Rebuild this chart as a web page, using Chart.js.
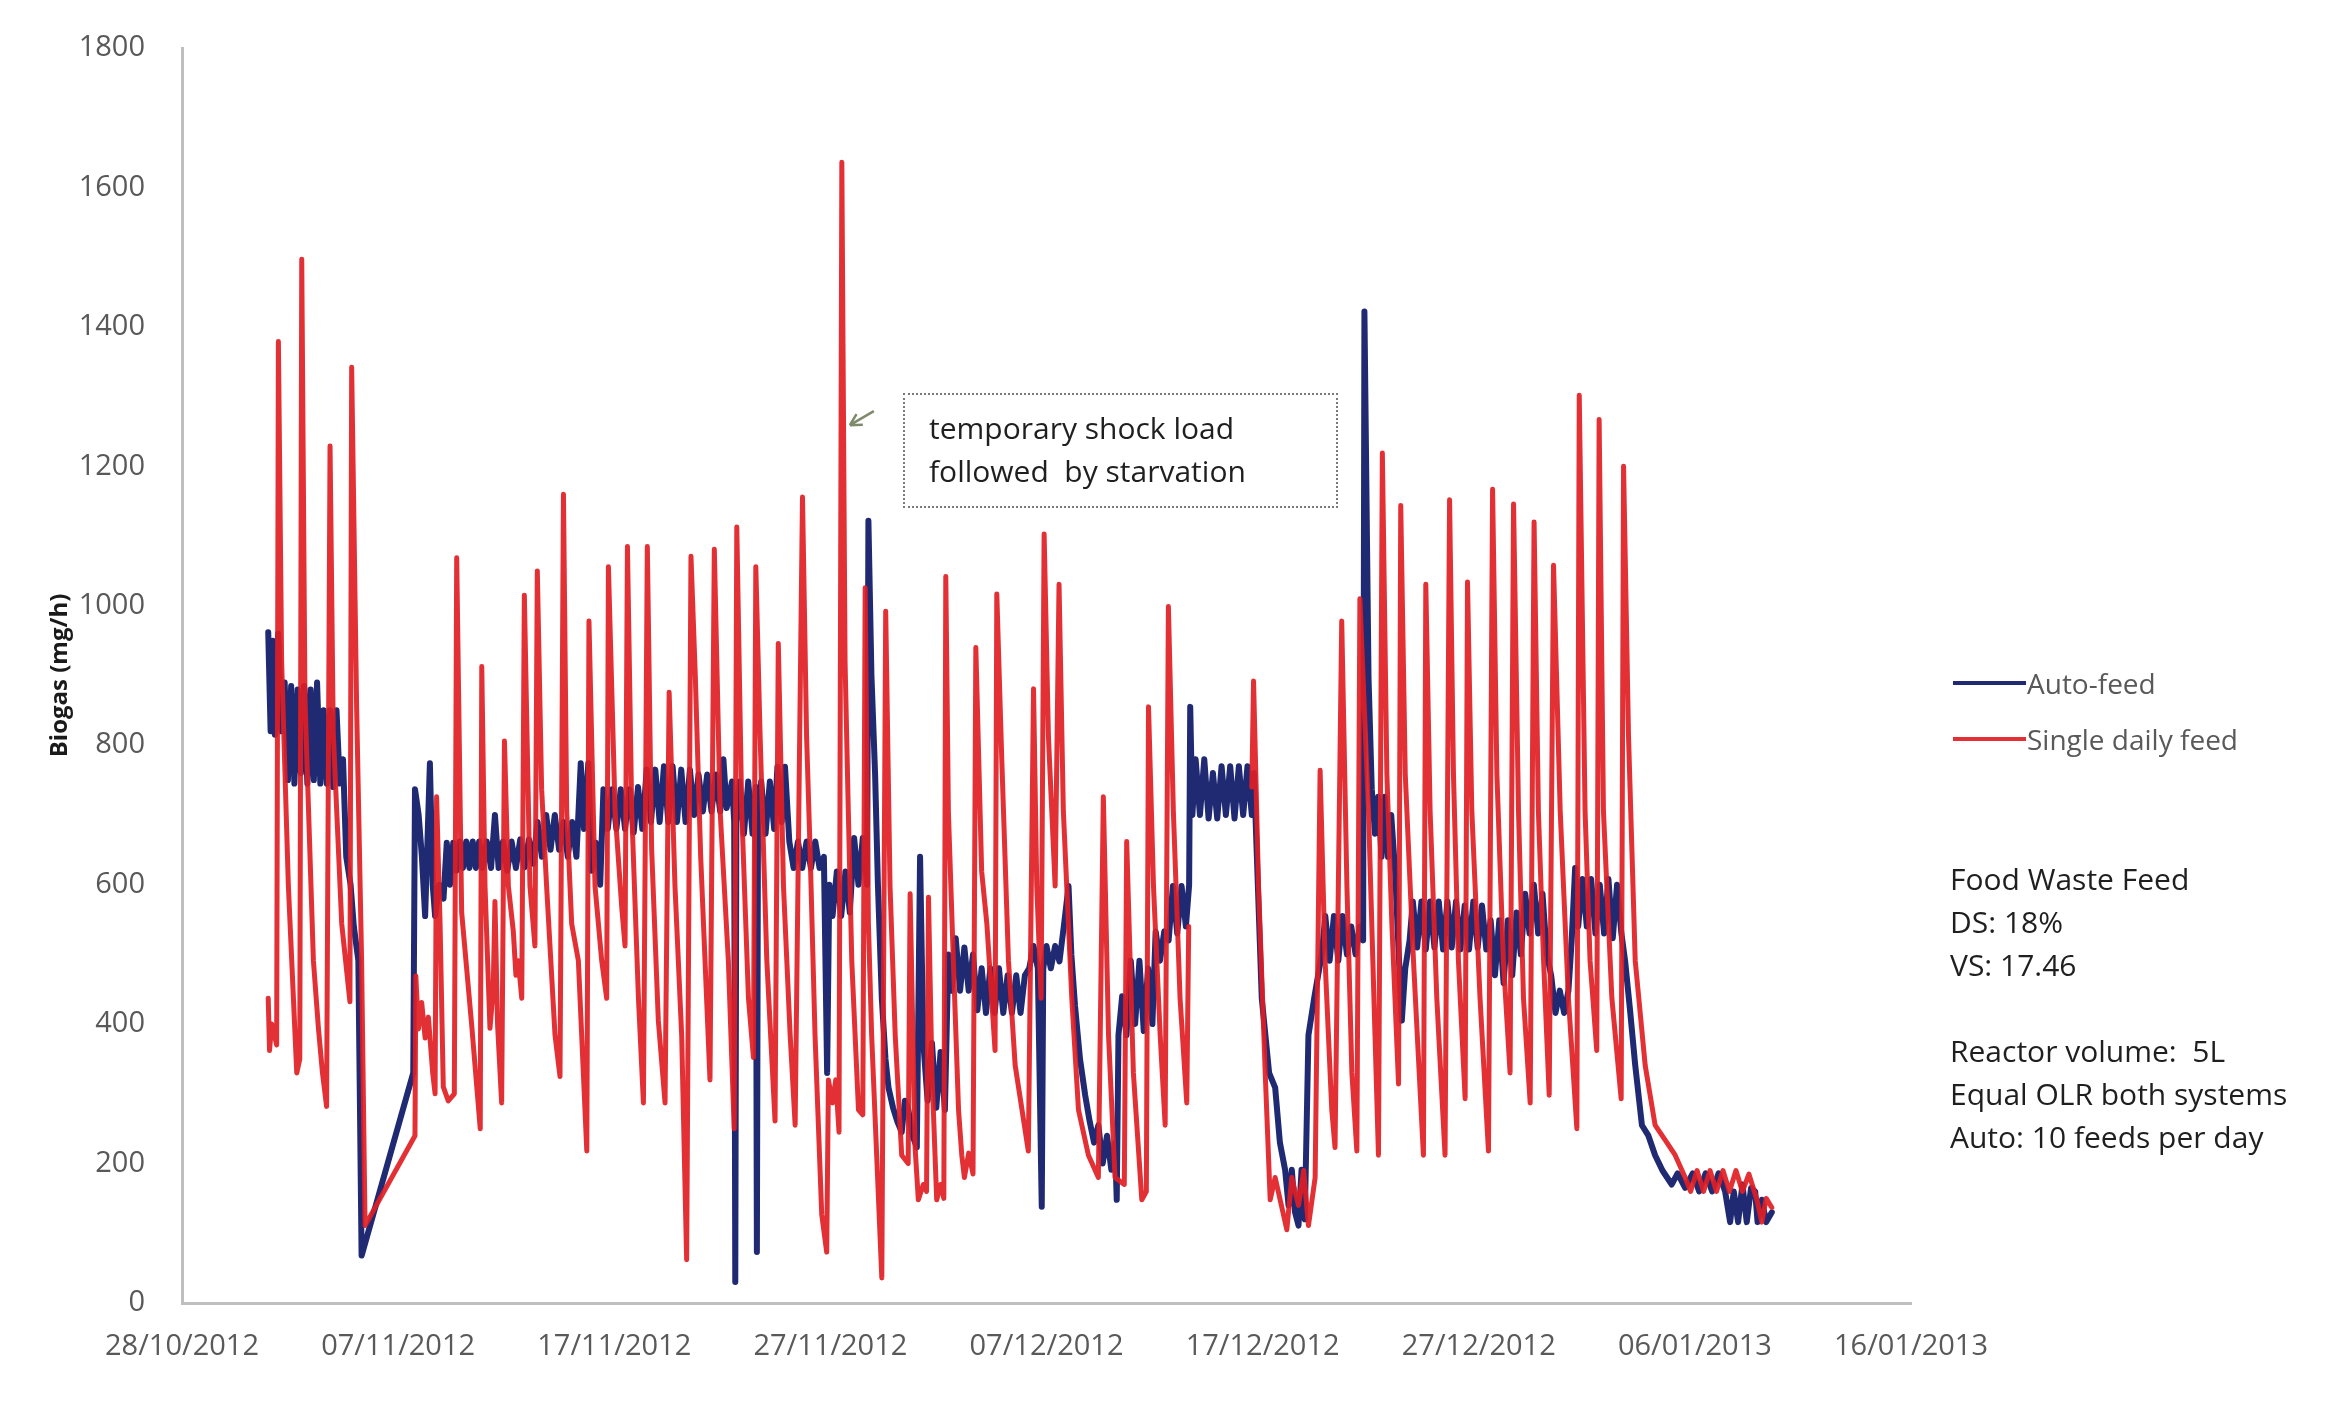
<!DOCTYPE html>
<html>
<head>
<meta charset="utf-8">
<title>Biogas - auto feed vs single daily feed</title>
<script src="https://cdn.jsdelivr.net/npm/chart.js@4.4.1/dist/chart.umd.min.js"></script>
<style>
  html, body { margin: 0; padding: 0; background: #fff; }
  #wrap { position: relative; width: 2337px; height: 1404px; font-family: "Open Sans", sans-serif; }
  #chart { position: absolute; left: 0; top: 0; }
  .legend-row { position: absolute; left: 1953px; height: 34px; display: flex; align-items: center;
                color: #595959; font-size: 28px; white-space: nowrap; }
  .legend-row .swatch { width: 73px; height: 4px; margin-right: 1px; }
  .notes { position: absolute; left: 1950px; top: 857px; font-size: 30px; line-height: 43px;
           color: #1f1f1f; white-space: pre; }
  .shock { position: absolute; left: 903px; top: 393px; width: 435px; height: 115px; box-sizing: border-box;
           border: 2px dotted #7a7a7a; padding: 11px 0 0 24px; font-size: 30px; line-height: 43px;
           color: #1f1f1f; white-space: pre; }
</style>
</head>
<body>
<div id="wrap">
  <canvas id="chart" width="2337" height="1404"></canvas>
  <div id="legend"></div>
  <div class="shock">temporary shock load
followed  by starvation</div>
  <div class="notes">Food Waste Feed
DS: 18%
VS: 17.46

Reactor volume:  5L
Equal OLR both systems
Auto: 10 feeds per day</div>
</div>
<script>
/* ---------- axis labels ---------- */
const tickLabels = ["28/10/2012", "07/11/2012", "17/11/2012", "27/11/2012", "07/12/2012",
                    "17/12/2012", "27/12/2012", "06/01/2013", "16/01/2013"];

/* ---------- series: [days since 28/10/2012, biogas mg/h] ---------- */
const autoFeed = [
  [3.99,962],[4.1,820],[4.2,950],[4.3,815],[4.45,960],[4.6,820],[4.75,890],[4.9,750],[5.05,885],[5.2,745],
  [5.35,880],[5.5,760],[5.65,885],[5.8,745],[5.95,880],[6.1,750],[6.25,890],[6.4,745],[6.55,850],[6.7,745],
  [6.85,850],[7.0,740],[7.15,850],[7.3,745],[7.45,780],[7.6,640],[7.8,600],[7.95,540],[8.16,491],[8.31,68],
  [10.7,330],[10.78,737],[10.95,700],[11.1,640],[11.25,555],[11.47,774],[11.6,600],[11.71,555],[11.9,600],[12.1,580],
  [12.25,660],[12.4,600],[12.55,660],[12.7,620],[12.85,662],[13.0,624],[13.15,662],[13.3,624],[13.45,662],[13.6,624],
  [13.75,662],[13.9,624],[14.1,662],[14.3,624],[14.48,700],[14.65,624],[14.85,662],[15.05,620],[15.25,662],[15.45,624],
  [15.65,665],[15.85,625],[16.05,665],[16.25,630],[16.45,690],[16.65,640],[16.85,700],[17.05,650],[17.25,700],[17.45,650],
  [17.65,690],[17.85,640],[18.05,690],[18.25,640],[18.45,774],[18.6,680],[18.8,774],[18.95,620],[19.15,660],[19.35,600],
  [19.5,737],[19.7,680],[19.9,737],[20.1,680],[20.3,737],[20.5,680],[20.7,737],[20.9,675],[21.1,740],[21.3,680],
  [21.5,765],[21.7,690],[21.9,765],[22.1,690],[22.3,770],[22.5,690],[22.7,770],[22.9,690],[23.1,765],[23.3,690],
  [23.5,765],[23.7,700],[23.9,758],[24.1,705],[24.3,758],[24.5,705],[24.7,758],[24.9,705],[25.05,780],[25.2,710],
  [25.45,748],[25.55,690],[25.6,30],[25.65,690],[25.8,748],[26.0,673],[26.2,748],[26.4,673],[26.55,740],[26.6,73],
  [26.65,680],[26.8,748],[27.0,673],[27.2,748],[27.4,680],[27.55,769],[27.75,690],[27.9,769],[28.1,662],[28.3,624],
  [28.5,662],[28.7,624],[28.9,662],[29.1,624],[29.3,662],[29.5,624],[29.7,640],[29.85,330],[29.95,600],[30.1,555],
  [30.3,619],[30.5,555],[30.7,619],[30.9,560],[31.1,667],[31.3,600],[31.5,667],[31.7,600],[31.76,1122],[31.9,900],
  [32.07,758],[32.2,600],[32.38,437],[32.55,350],[32.69,309],[32.9,280],[33.1,260],[33.3,245],[33.45,290],[33.61,277],
  [33.8,240],[34.0,223],[34.15,640],[34.3,373],[34.5,290],[34.7,373],[34.9,280],[35.1,360],[35.3,277],[35.46,500],
  [35.6,448],[35.8,523],[36.0,448],[36.2,510],[36.4,448],[36.6,500],[36.8,420],[37.0,480],[37.2,416],[37.4,480],
  [37.6,416],[37.8,480],[38.0,416],[38.2,470],[38.4,416],[38.6,470],[38.8,416],[39.0,470],[39.2,480],[39.4,512],
  [39.6,480],[39.78,138],[39.85,480],[40.0,512],[40.2,480],[40.4,512],[40.6,490],[40.8,540],[41.02,598],[41.15,500],
  [41.32,426],[41.55,350],[41.79,298],[42.0,260],[42.2,230],[42.4,255],[42.6,200],[42.8,240],[43.0,191],[43.17,230],
  [43.25,148],[43.33,384],[43.5,440],[43.7,384],[43.9,491],[44.1,400],[44.3,491],[44.5,390],[44.7,480],[44.9,400],
  [45.05,533],[45.25,491],[45.45,533],[45.65,520],[45.85,598],[46.05,530],[46.25,598],[46.45,540],[46.6,600],[46.65,855],
  [46.75,700],[46.9,780],[47.1,700],[47.3,780],[47.5,695],[47.7,760],[47.9,695],[48.1,770],[48.3,700],[48.5,770],
  [48.7,695],[48.9,770],[49.1,700],[49.3,770],[49.5,700],[49.6,760],[49.96,437],[50.3,330],[50.58,309],[50.8,230],
  [51.04,191],[51.2,140],[51.35,191],[51.5,130],[51.66,111],[51.8,191],[51.95,120],[52.12,384],[52.4,440],[52.74,501],
  [52.9,555],[53.1,491],[53.3,555],[53.5,491],[53.7,555],[53.9,500],[54.1,540],[54.3,500],[54.5,540],[54.65,520],
  [54.71,1422],[54.9,897],[55.05,737],[55.2,673],[55.35,726],[55.5,640],[55.65,726],[55.8,640],[55.95,700],[56.13,619],
  [56.3,500],[56.44,405],[56.6,480],[56.8,520],[56.95,576],[57.15,510],[57.35,576],[57.55,507],[57.75,576],[57.95,510],
  [58.15,576],[58.35,507],[58.55,576],[58.75,510],[58.95,576],[59.15,507],[59.35,570],[59.55,507],[59.75,576],[59.95,510],
  [60.15,570],[60.35,507],[60.55,549],[60.75,470],[60.95,549],[61.15,459],[61.35,549],[61.55,470],[61.75,560],[61.95,500],
  [62.15,587],[62.35,530],[62.55,600],[62.75,530],[62.95,587],[63.15,500],[63.35,470],[63.55,416],[63.75,448],[63.95,416],
  [64.15,448],[64.3,520],[64.46,624],[64.6,540],[64.8,608],[65.0,540],[65.2,608],[65.4,530],[65.6,600],[65.8,530],
  [66.0,608],[66.2,523],[66.4,600],[66.6,530],[66.77,491],[67.0,420],[67.24,341],[67.55,255],[67.85,240],[68.16,212],
  [68.5,190],[68.93,170],[69.2,186],[69.55,165],[69.9,186],[70.2,160],[70.5,186],[70.8,160],[71.1,186],[71.4,160],
  [71.63,116],[71.8,160],[72.0,116],[72.2,170],[72.4,116],[72.6,165],[72.79,160],[72.9,116],[73.1,148],[73.3,116],
  [73.56,130]
];

const singleFeed = [
  [3.99,437],[4.05,362],[4.15,400],[4.38,370],[4.46,1379],[4.61,920],[4.92,600],[5.31,330],[5.45,350],[5.54,1497],
  [5.69,865],[6.08,491],[6.31,395],[6.5,330],[6.69,282],[6.85,1229],[7.0,817],[7.39,544],[7.77,432],[7.85,1342],
  [8.08,855],[8.31,491],[8.47,111],
  [10.78,240],[10.82,469],[10.94,393],[11.09,431],[11.25,380],[11.4,410],[11.6,330],[11.71,300],[11.78,726],[11.94,545],
  [12.09,310],[12.32,290],[12.6,300],[12.71,1069],[12.94,560],[13.4,400],[13.8,250],
  [13.87,913],[14.02,598],[14.25,394],[14.4,450],[14.48,576],[14.6,400],[14.79,287],
  [14.92,806],[15.1,598],[15.33,533],[15.45,470],[15.56,491],[15.72,437],
  [15.84,1015],[16.1,598],[16.33,512],
  [16.44,1050],[16.64,737],[16.87,598],[17.26,384],[17.49,325],
  [17.65,1160],[17.8,705],[18.03,544],[18.34,491],[18.73,218],
  [18.83,978],[19.11,598],[19.42,491],[19.65,437],
  [19.73,1056],[20.04,705],[20.35,566],[20.5,512],
  [20.61,1085],[20.81,705],[21.12,437],[21.35,287],
  [21.53,1085],[21.73,651],[22.04,405],[22.35,287],
  [22.54,876],[22.81,598],[23.12,384],[23.35,62],
  [23.55,1071],[23.75,900],[24.0,640],[24.43,320],
  [24.63,1081],[24.9,705],[25.28,491],[25.55,250],
  [25.67,1113],[25.9,705],[26.21,437],[26.44,352],
  [26.55,1056],[26.75,812],[27.06,491],[27.44,261],
  [27.59,946],[27.83,598],[28.14,384],[28.37,255],
  [28.71,1156],[28.9,812],[29.06,651],[29.29,384],[29.6,127],[29.83,73],[29.91,320],[30.1,287],[30.25,320],[30.4,245],
  [30.53,1636],[30.68,919],[30.83,705],[30.99,491],[31.3,277],[31.5,270],
  [31.61,1026],[31.76,544],[31.91,384],[32.38,36],
  [32.56,992],[32.76,598],[33.0,384],[33.3,212],[33.6,200],
  [33.69,587],[33.92,223],[34.07,148],[34.3,170],[34.45,160],
  [34.54,582],[34.7,330],[34.92,148],[35.1,170],[35.25,150],
  [35.34,1042],[35.46,705],[35.69,491],[35.93,277],[36.08,212],[36.2,180],[36.4,215],[36.6,185],
  [36.73,940],[37.0,619],[37.24,544],[37.62,362],
  [37.7,1017],[37.93,780],[38.24,491],[38.55,341],[39.16,218],
  [39.4,881],[39.55,598],[39.75,437],
  [39.89,1103],[40.09,812],[40.4,598],
  [40.58,1031],[40.78,705],[41.17,437],[41.48,277],[41.94,212],[42.4,180],
  [42.63,726],[42.87,384],[43.17,180],[43.6,170],
  [43.71,662],[44.02,330],[44.41,148],[44.62,160],
  [44.72,855],[44.95,598],[45.26,384],[45.49,255],
  [45.64,999],[45.87,705],[46.18,437],[46.49,287],[46.58,540],
  [48.0,null],
  [49.5,740],[49.58,892],[49.81,598],[50.12,330],[50.35,148],[50.58,180],[50.89,137],[51.12,105],[51.35,180],[51.66,140],
  [51.9,190],[52.12,111],[52.43,180],
  [52.66,764],[52.89,491],[53.2,277],[53.35,223],
  [53.66,978],[53.9,598],[54.13,330],[54.36,218],
  [54.5,1010],[54.9,705],[55.2,384],[55.36,212],
  [55.54,1219],[55.75,758],[55.98,544],[56.29,314],
  [56.39,1144],[56.6,758],[56.98,491],[57.44,212],
  [57.55,1031],[57.75,705],[58.06,437],[58.44,212],
  [58.65,1152],[58.83,758],[59.06,491],[59.37,293],
  [59.48,1034],[59.68,705],[60.06,437],[60.45,218],
  [60.64,1167],[60.84,758],[61.14,491],[61.45,330],
  [61.61,1146],[61.84,705],[62.07,437],[62.38,287],
  [62.56,1120],[62.76,705],[63.0,491],[63.26,298],
  [63.46,1058],[63.77,705],[64.15,437],[64.54,250],
  [64.65,1302],[64.92,705],[65.15,491],[65.46,362],
  [65.57,1267],[65.77,705],[66.16,437],[66.59,293],
  [66.7,1200],[66.93,812],[67.24,491],[67.7,341],[68.16,255],[68.62,234],[69.09,212],[69.55,180],
  [69.8,160],[70.1,190],[70.4,160],[70.7,190],[71.0,160],[71.3,190],[71.6,160],[71.9,190],[72.2,160],[72.5,185],
  [72.87,148],[73.1,116],[73.3,150],[73.56,137]
];

const seriesNames = ["Auto-feed", "Single daily feed"];
const seriesColors = ["#1f2a72", "rgba(224, 30, 36, 0.92)"];
const seriesWidths = [6, 5];

const toPoints = s => s.map(([x, y]) => ({ x, y }));
const tickFont = { family: "Open Sans", size: 29 };

// small open arrow pointing at the shock-load spike
const shockArrow = {
  id: "shockArrow",
  afterDatasetsDraw(chart) {
    const { ctx, scales: { x, y } } = chart;
    const tipX = x.getPixelForValue(30.53) + 8;
    const tipY = y.getPixelForValue(1259);
    const tailX = tipX + 24, tailY = tipY - 14;
    const ang = Math.atan2(tailY - tipY, tailX - tipX);
    ctx.save();
    ctx.strokeStyle = "#7f8a6a";
    ctx.lineWidth = 2.5;
    ctx.beginPath();
    ctx.moveTo(tailX, tailY);
    ctx.lineTo(tipX, tipY);
    [-0.5, 0.5].forEach(s => {
      ctx.moveTo(tipX, tipY);
      ctx.lineTo(tipX + 13 * Math.cos(ang + s), tipY + 13 * Math.sin(ang + s));
    });
    ctx.stroke();
    ctx.restore();
  }
};

const chart = new Chart(document.getElementById("chart"), {
  type: "line",
  data: {
    datasets: [
      { label: seriesNames[0], data: toPoints(autoFeed), borderColor: seriesColors[0], borderWidth: seriesWidths[0], order: 2 },
      { label: seriesNames[1], data: toPoints(singleFeed), borderColor: seriesColors[1], borderWidth: seriesWidths[1], order: 1 }
    ]
  },
  options: {
    responsive: false,
    animation: false,
    devicePixelRatio: 1,
    layout: { padding: { left: 0, top: 48, right: 426, bottom: 0 } },
    elements: {
      line: { tension: 0, borderJoinStyle: "round", borderCapStyle: "round" },
      point: { radius: 0 }
    },
    plugins: { legend: { display: false }, tooltip: { enabled: false } },
    scales: {
      x: {
        type: "linear", min: 0, max: 80,
        afterFit: s => { s.height = 101; },
        grid: { display: false },
        border: { color: "#bfbfbf", width: 3 },
        ticks: {
          stepSize: 10, autoSkip: false, maxRotation: 0, padding: 18,
          color: "#595959", font: tickFont,
          callback: (v, i) => tickLabels[i]
        }
      },
      y: {
        min: 0, max: 1800,
        afterFit: s => { s.width = 182; },
        grid: { display: false },
        border: { color: "#bfbfbf", width: 3 },
        ticks: { stepSize: 200, padding: 29, color: "#595959", font: tickFont, callback: v => String(v) },
        title: {
          display: true, text: "Biogas (mg/h)", color: "#1a1a1a",
          font: { family: "Open Sans", size: 24, weight: "bold" },
          padding: { top: 46, bottom: 0 }
        }
      }
    }
  },
  plugins: [shockArrow]
});

/* -------- legend (right side) -------- */
const legendTops = [666, 722];
const legend = document.getElementById("legend");
chart.data.datasets.forEach((ds, i) => {
  legend.innerHTML += `
    <div class="legend-row" style="top:${legendTops[i]}px">
      <span class="swatch" style="background:${ds.borderColor}"></span>${ds.label}
    </div>`;
});
</script>
</body>
</html>
